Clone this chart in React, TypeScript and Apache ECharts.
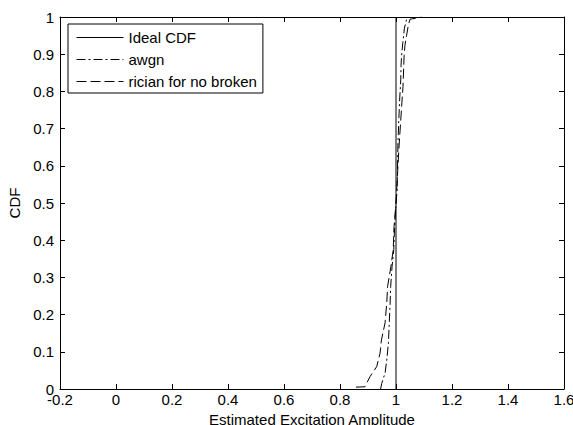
import React, { useEffect, useRef } from "react";
import * as echarts from "echarts";

const xTicksMin = -0.2;
const xTicksMax = 1.6;
const xStep = 0.2;
const yTicksMin = 0;
const yTicksMax = 1;
const yStep = 0.1;

const seriesNames = ["Ideal CDF", "awgn", "rician for no broken"];

const idealX = [1, 1];
const idealY = [0, 1];

const awgnX = [0.945, 0.949, 0.961, 0.967, 0.973, 0.976, 0.979, 0.981, 0.986, 0.992, 0.995, 1.0, 1.004, 1.007, 1.01, 1.013, 1.017, 1.018, 1.02, 1.024, 1.03, 1.04];
const awgnY = [0, 0.015, 0.043, 0.078, 0.124, 0.178, 0.231, 0.275, 0.33, 0.374, 0.436, 0.5, 0.535, 0.661, 0.723, 0.777, 0.831, 0.87, 0.897, 0.928, 0.97, 1.0];

const ricianX = [0.857, 0.889, 0.907, 0.931, 0.943, 0.948, 0.961, 0.967, 0.97, 0.982, 0.99, 0.993, 1.0, 1.01, 1.013, 1.017, 1.021, 1.025, 1.029, 1.032, 1.038, 1.044, 1.05, 1.092];
const ricianY = [0.005, 0.006, 0.033, 0.06, 0.096, 0.132, 0.178, 0.232, 0.276, 0.33, 0.374, 0.436, 0.5, 0.642, 0.677, 0.723, 0.769, 0.813, 0.897, 0.924, 0.951, 0.978, 0.994, 1.0];

const zip = (xs: number[], ys: number[]) => xs.map((x, i) => [x, ys[i]]);

const FONT = "'Liberation Sans', Arial, sans-serif";
const FS = 15;

const fmt = (v: number) => {
  const r = Math.round(v * 10) / 10;
  return String(r === 0 ? 0 : r);
};

export default function App() {
  const ref = useRef<HTMLDivElement>(null);
  useEffect(() => {
    if (!ref.current) return;
    const chart = echarts.init(ref.current, null, { renderer: "svg" });
    const axisLine = { show: true, onZero: false, lineStyle: { color: "#000", width: 1 } };
    const tick = { show: true, inside: true, length: 5, lineStyle: { color: "#000", width: 1 } };
    const option: any = {
      animation: false,
      backgroundColor: "#fff",
      textStyle: { fontFamily: FONT },
      grid: { left: 60, top: 17, right: 9, bottom: 36, containLabel: false, outerBoundsMode: "none" },
      legend: {
        data: seriesNames,
        orient: "vertical",
        left: 68,
        top: 24,
        itemWidth: 47,
        itemHeight: 14,
        itemGap: 7,
        padding: [6, 6, 4, 8],
        borderColor: "#000",
        borderWidth: 1,
        borderRadius: 0,
        backgroundColor: "#fff",
        lineStyle: { width: 1, color: "#000" },
        itemStyle: { color: "rgba(0,0,0,0)", borderColor: "rgba(0,0,0,0)", borderWidth: 0 },
        textStyle: { fontSize: FS, color: "#000", fontFamily: FONT },
      },
      xAxis: [
        {
          type: "value",
          position: "bottom",
          min: xTicksMin,
          max: xTicksMax,
          interval: xStep,
          axisLine,
          axisTick: tick,
          splitLine: { show: false },
          axisLabel: { color: "#000", fontSize: FS, margin: 3, fontFamily: FONT, formatter: fmt },
          name: "Estimated Excitation Amplitude",
          nameLocation: "middle",
          nameGap: 23,
          nameTextStyle: { color: "#000", fontSize: FS, fontFamily: FONT },
        },
        {
          type: "value",
          position: "top",
          min: xTicksMin,
          max: xTicksMax,
          interval: xStep,
          axisLine,
          axisTick: tick,
          splitLine: { show: false },
          axisLabel: { show: false },
        },
      ],
      yAxis: [
        {
          type: "value",
          position: "left",
          min: yTicksMin,
          max: yTicksMax,
          interval: yStep,
          axisLine,
          axisTick: tick,
          splitLine: { show: false },
          axisLabel: { color: "#000", fontSize: FS, margin: 6, fontFamily: FONT, formatter: fmt },
          name: "CDF",
          nameLocation: "middle",
          nameGap: 37,
          nameTextStyle: { color: "#000", fontSize: FS, fontFamily: FONT },
        },
        {
          type: "value",
          position: "right",
          min: yTicksMin,
          max: yTicksMax,
          interval: yStep,
          axisLine,
          axisTick: tick,
          splitLine: { show: false },
          axisLabel: { show: false },
        },
      ],
      series: [
        {
          name: seriesNames[0],
          type: "line",
          data: zip(idealX, idealY),
          symbol: "none",
          lineStyle: { color: "#000", width: 1, type: "solid" },
          itemStyle: { color: "#000" },
        },
        {
          name: seriesNames[1],
          type: "line",
          data: zip(awgnX, awgnY),
          symbol: "none",
          lineStyle: { color: "#000", width: 1, type: [9, 3, 2, 3] },
          itemStyle: { color: "#000" },
        },
        {
          name: seriesNames[2],
          type: "line",
          data: zip(ricianX, ricianY),
          symbol: "none",
          lineStyle: { color: "#000", width: 1, type: [10, 4] },
          itemStyle: { color: "#000" },
        },
      ],
    };
    chart.setOption(option);
    return () => chart.dispose();
  }, []);
  return (
    <div
      ref={ref}
      style={{ position: "fixed", left: 0, top: 0, width: 573, height: 425, background: "#fff" }}
    />
  );
}
